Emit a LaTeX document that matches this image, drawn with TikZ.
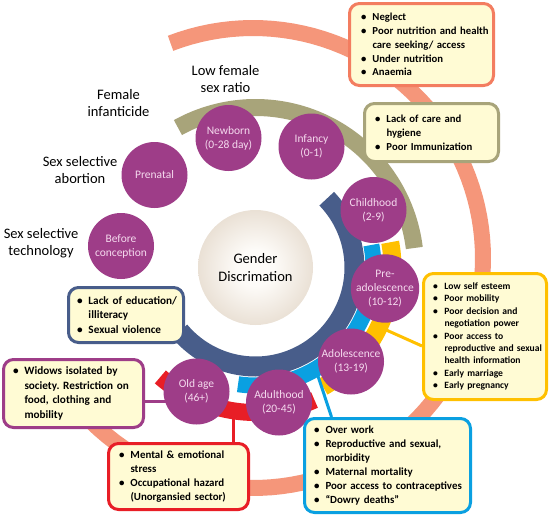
\documentclass[tikz,border=0pt]{standalone}
\usepackage{fontspec}
\setmainfont{Carlito}
\usetikzlibrary{calc}
\pgfdeclarelayer{bg}
\pgfsetlayers{bg,main}
\frenchspacing
\definecolor{salmonA}{RGB}{245,150,122}
\definecolor{salmonB}{RGB}{243,125,96}
\definecolor{oliveA}{RGB}{168,164,122}
\definecolor{slateA}{RGB}{72,93,138}
\definecolor{cyanA}{RGB}{10,160,225}
\definecolor{goldA}{RGB}{255,192,0}
\definecolor{redA}{RGB}{232,30,38}
\definecolor{plumA}{RGB}{158,61,136}
\definecolor{pinkT}{RGB}{245,218,238}
\definecolor{creamA}{RGB}{255,251,212}
\definecolor{tanA}{RGB}{206,186,162}
\definecolor{tanB}{RGB}{253,251,248}
\pgfdeclareradialshading{gdshade}{\pgfpoint{0bp}{0bp}}{color(0bp)=(tanB); color(8bp)=(tanB); color(50bp)=(tanA)}
\newcommand\bul{\makebox[11.5pt][l]{\textbullet}}
\newcommand\bl[1]{\mbox{\bul#1}}
\newcommand\cl[1]{\mbox{\hspace*{11.5pt}#1}}
\newcommand\band[7]{\draw[draw=#1, line width=#5pt] plot[domain=#6:#7, samples=100, variable=\t] ({#2+#4*cos(\t)}, {#3-#4*sin(\t)});}
\begin{document}
\begin{tikzpicture}[x=1pt,y=-1pt,
  stage/.style={circle, fill=plumA, minimum size=66pt, inner sep=0pt, text=pinkT, align=center, font=\fontsize{11.5}{14}\selectfont},
  infobox/.style={draw=#1, line width=3pt, rounded corners=10pt, fill=creamA, inner sep=0pt, align=left, text=black, font=\bfseries\fontsize{10.7}{13.8}\selectfont},
  lbl/.style={align=center, font=\fontsize{14.5}{17}\selectfont, inner sep=0pt},
  conn/.style={line width=3pt, draw=#1}
]
\useasboundingbox (0,0) rectangle (550,528);
\begin{pgfonlayer}{bg}
\fill[white] (0,0) rectangle (550,528);
\band{salmonA}{253}{258}{230}{16}{111}{-145}
\band{oliveA}{255.5}{267.5}{160}{17}{119}{7}
\band{slateA}{255.5}{267.5}{99}{20}{44}{-140}
\band{cyanA}{255.5}{267.5}{118}{16}{11}{-98.5}
\band{goldA}{255.5}{267.5}{137}{18}{10.6}{-60.5}
\band{redA}{255.5}{267.5}{145}{17}{-66}{-131}
\end{pgfonlayer}
% life stages
\node[stage] (before) at (121,246) {Before\\conception};
\node[stage] (prenatal) at (154.5,175) {Prenatal};
\node[stage] (newborn) at (228.5,138) {Newborn\\(0-28 day)};
\node[stage] (infancy) at (311.5,146.5) {Infancy\\(0-1)};
\node[stage] (child) at (373.5,210) {Childhood\\(2-9)};
\node[stage] (preado) at (385,288.5) {Pre-\\adolescence\\(10-12)};
\node[stage] (ado) at (351,361.5) {Adolescence\\(13-19)};
\node[stage] (adult) at (279,402.5) {Adulthood\\(20-45)};
\node[stage] (oldage) at (196.5,391.5) {Old age\\(46+)};
% centre
\node[circle, minimum size=115pt, inner sep=0pt, shading=gdshade, align=center, font=\fontsize{14.5}{17.5}\selectfont] (gender) at (255.5,267.5) {Gender\\Discrimation};
% boxes
\node[infobox=salmonB, minimum width=144pt, minimum height=82pt, text width=121pt] (nbox) at (421.5,44.5) {\bl{Neglect}\\ \bl{Poor nutrition and health}\\ \cl{care seeking/ access}\\ \bl{Under nutrition}\\ \bl{Anaemia}};
\node[infobox=oliveA, minimum width=134pt, minimum height=58pt, text width=113pt] (hbox) at (431.5,132.5) {\bl{Lack of care and}\\ \cl{hygiene}\\ \bl{Poor Immunization}};
\node[infobox=goldA, minimum width=123pt, minimum height=126pt, text width=104pt, font=\bfseries\fontsize{9.6}{12.4}\selectfont] (ybox) at (485,336.5) {\bl{Low self esteem}\\ \bl{Poor mobility}\\ \bl{Poor decision and}\\ \cl{negotiation power}\\ \bl{Poor access to}\\ \cl{reproductive and sexual}\\ \cl{health information}\\ \bl{Early marriage}\\ \bl{Early pregnancy}};
\node[infobox=cyanA, minimum width=166pt, minimum height=94pt, text width=147pt, font=\bfseries\fontsize{10.9}{14}\selectfont] (cbox) at (387.5,465.5) {\bl{Over work}\\ \bl{Reproductive and sexual,}\\ \cl{morbidity}\\ \bl{Maternal mortality}\\ \bl{Poor access to contraceptives}\\ \bl{“Dowry deaths”}};
\node[infobox=redA, minimum width=140pt, minimum height=66pt, text width=119pt, font=\bfseries\fontsize{10.9}{14}\selectfont] (rbox) at (178.5,476.5) {\bl{Mental \& emotional}\\ \cl{stress}\\ \bl{Occupational hazard}\\ \cl{(Unorgansied sector)}};
\node[infobox=plumA, minimum width=140pt, minimum height=68pt, text width=121pt, font=\bfseries\fontsize{11.2}{14.5}\selectfont] (wbox) at (73.5,393.5) {\bl{Widows isolated by}\\ \cl{society. Restriction on}\\ \cl{food, clothing and}\\ \cl{mobility}};
\node[infobox=slateA, minimum width=115pt, minimum height=55pt, text width=98pt, font=\bfseries\fontsize{11.2}{14.5}\selectfont] (ebox) at (126,315) {\bl{Lack of education/}\\ \cl{illiteracy}\\ \bl{Sexual violence}};
% labels
\node[lbl] (lowratio) at (225.5,79) {Low female\\sex ratio};
\node[lbl] (infanticide) at (118.5,103) {Female\\infanticide};
\node[lbl] (abortion) at (80,170) {Sex selective\\abortion};
\node[lbl] (technology) at (41,243) {Sex selective\\technology};
% connectors
\begin{pgfonlayer}{bg}
\coordinate (ycon) at (381.8,328);
\draw[conn=goldA] (ycon) -- ($(ybox.west)+(0,9.5)$);
\coordinate (ccon) at (318,376);
\draw[conn=cyanA] (ccon) -- ($(cbox.north west)+(28.5,0)$);
\coordinate (rcon) at (233,411);
\draw[conn=redA] (rcon) -- (rcon |- rbox.north);
\coordinate (wcon) at ($(wbox.east)+(0,7.5)$);
\draw[conn=plumA] (wcon) -- (wcon -| oldage.center);
\end{pgfonlayer}
\end{tikzpicture}
\end{document}
